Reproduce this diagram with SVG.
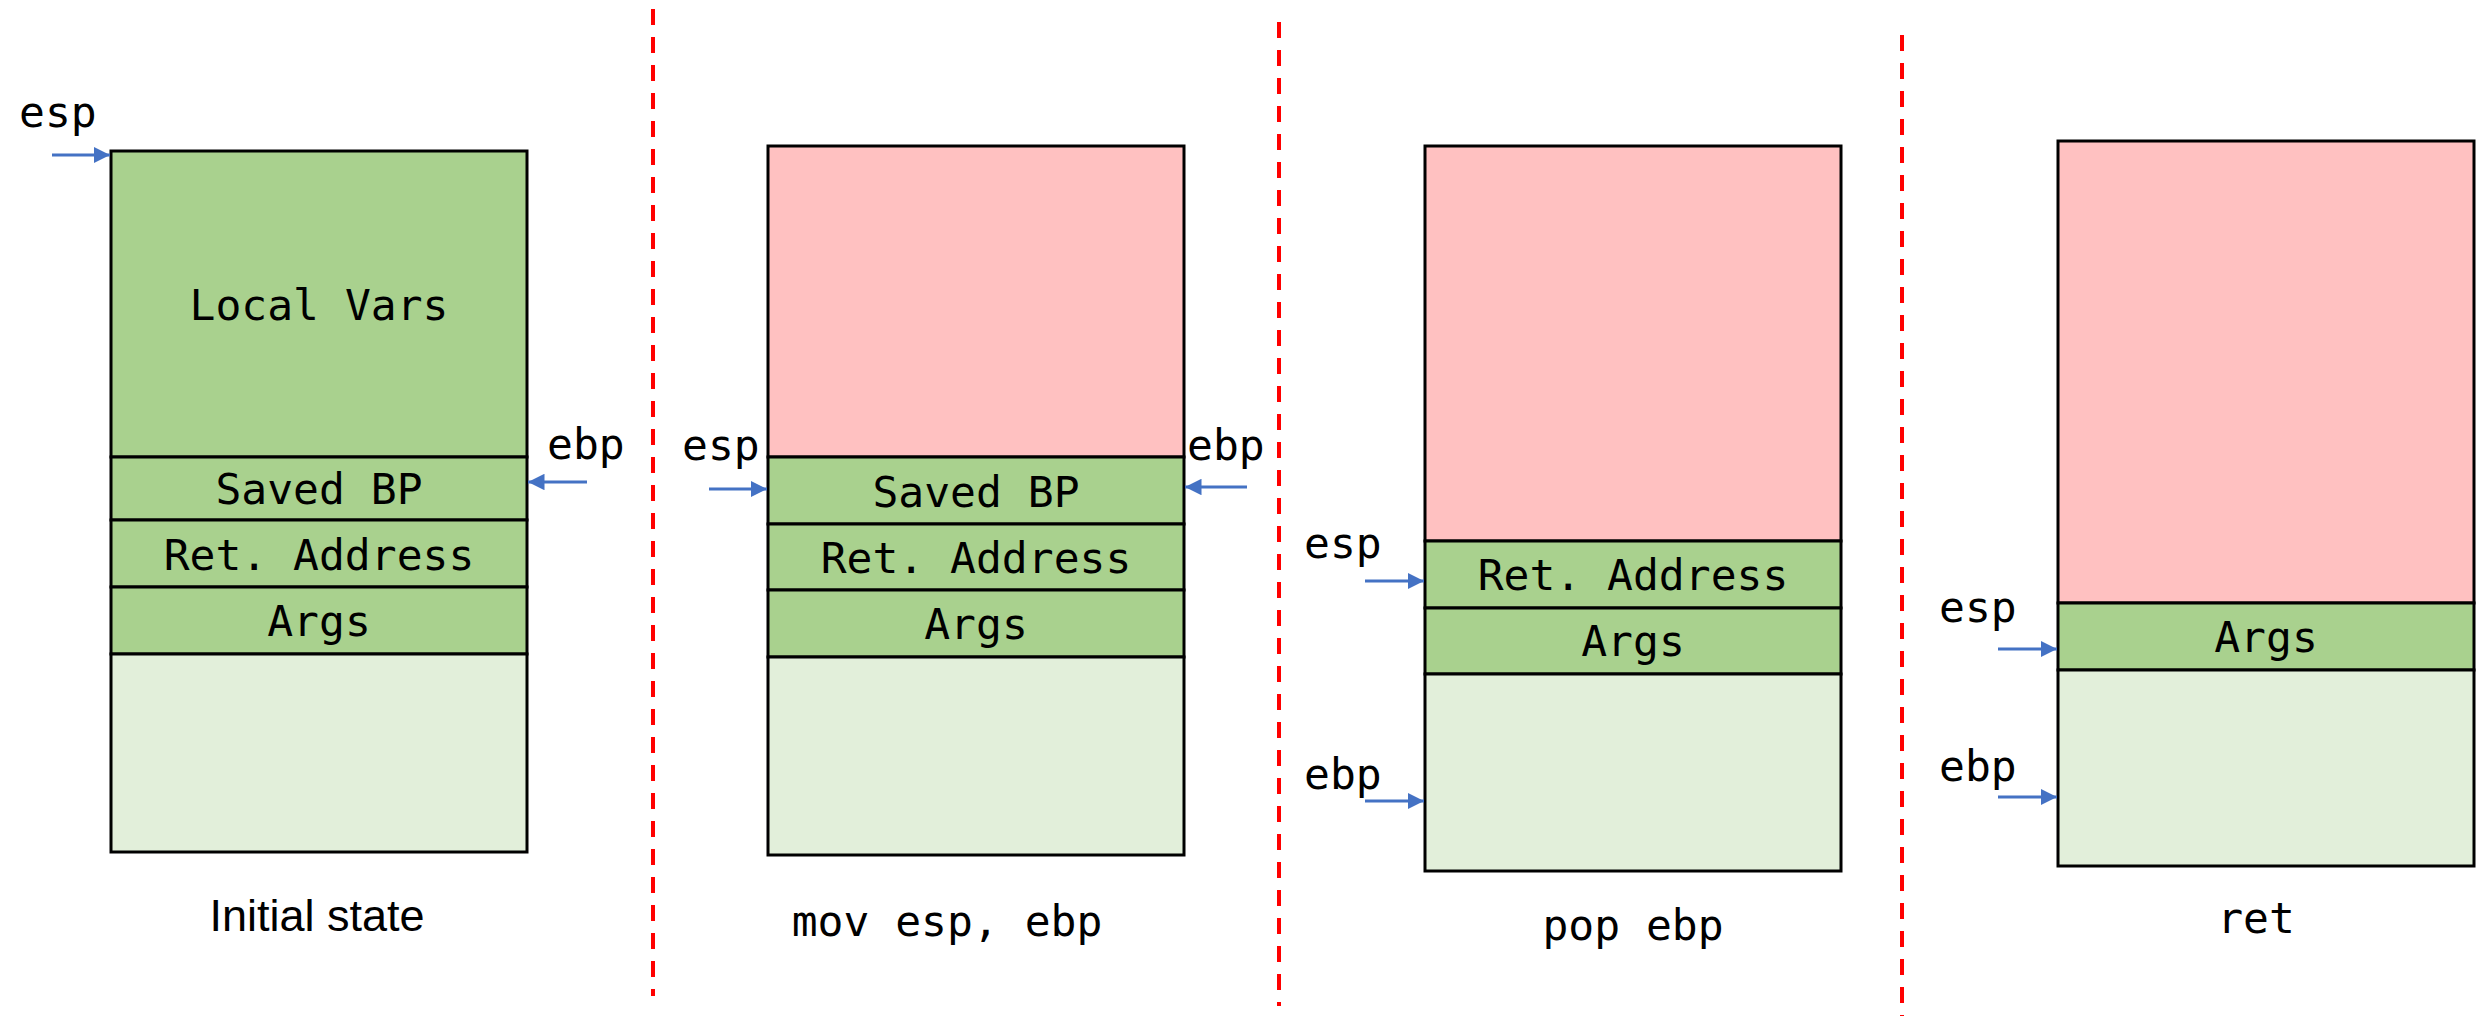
<svg xmlns="http://www.w3.org/2000/svg" width="2488" height="1022" viewBox="0 0 2488 1022">
<style>
.box{stroke:#000;stroke-width:3}
.g{fill:#A9D18E}
.lg{fill:#E2EFDA}
.pk{fill:#FFC1C1}
.mono{font-family:"DejaVu Sans Mono","Liberation Mono",monospace;font-size:43px;fill:#000}
.cell{text-anchor:middle;dominant-baseline:central}
.cap{font-family:"Liberation Sans",Arial,sans-serif;font-size:45px;fill:#000;text-anchor:middle}
.sep{stroke:#FF0000;stroke-width:4;stroke-dasharray:16 12;fill:none}
.arr{stroke:#4472C4;stroke-width:3;fill:none;marker-end:url(#ah)}
</style>
<defs>
<marker id="ah" viewBox="0 0 10 10" refX="10" refY="5" markerWidth="5.5" markerHeight="5.5" markerUnits="strokeWidth" orient="auto">
<path d="M0,0 L10,5 L0,10 z" fill="#4472C4"/>
</marker>
</defs>
<rect width="2488" height="1022" fill="#fff"/>
<g id="separators">
<line class="sep" x1="653" y1="9" x2="653" y2="996"/>
<line class="sep" x1="1279" y1="22" x2="1279" y2="1006"/>
<line class="sep" x1="1902" y1="35" x2="1902" y2="1016"/>
</g>
<g id="stack1">
<rect class="box g" x="111" y="151" width="416" height="306"/>
<rect class="box g" x="111" y="457" width="416" height="63"/>
<rect class="box g" x="111" y="520" width="416" height="67"/>
<rect class="box g" x="111" y="587" width="416" height="67"/>
<rect class="box lg" x="111" y="654" width="416" height="198"/>
<text class="mono cell" x="319" y="305">Local Vars</text>
<text class="mono cell" x="319" y="489">Saved BP</text>
<text class="mono cell" x="319" y="555">Ret. Address</text>
<text class="mono cell" x="319" y="621">Args</text>
<text class="cap" x="317" y="931">Initial state</text>
<text class="mono" x="19" y="127">esp</text>
<text class="mono" x="547" y="459">ebp</text>
</g>
<g id="stack2">
<rect class="box pk" x="768" y="146" width="416" height="311"/>
<rect class="box g" x="768" y="457" width="416" height="67"/>
<rect class="box g" x="768" y="524" width="416" height="66"/>
<rect class="box g" x="768" y="590" width="416" height="67"/>
<rect class="box lg" x="768" y="657" width="416" height="198"/>
<text class="mono cell" x="976" y="492">Saved BP</text>
<text class="mono cell" x="976" y="558">Ret. Address</text>
<text class="mono cell" x="976" y="624">Args</text>
<text class="mono" x="682" y="460">esp</text>
<text class="mono" x="1187" y="460">ebp</text>
<text class="mono" x="947" y="936" text-anchor="middle">mov esp, ebp</text>
</g>
<g id="stack3">
<rect class="box pk" x="1425" y="146" width="416" height="395"/>
<rect class="box g" x="1425" y="541" width="416" height="67"/>
<rect class="box g" x="1425" y="608" width="416" height="66"/>
<rect class="box lg" x="1425" y="674" width="416" height="197"/>
<text class="mono cell" x="1633" y="575">Ret. Address</text>
<text class="mono cell" x="1633" y="641">Args</text>
<text class="mono" x="1304" y="558">esp</text>
<text class="mono" x="1304" y="789">ebp</text>
<text class="mono" x="1633" y="940" text-anchor="middle">pop ebp</text>
</g>
<g id="stack4">
<rect class="box pk" x="2058" y="141" width="416" height="462"/>
<rect class="box g" x="2058" y="603" width="416" height="67"/>
<rect class="box lg" x="2058" y="670" width="416" height="196"/>
<text class="mono cell" x="2266" y="637">Args</text>
<text class="mono" x="1939" y="622">esp</text>
<text class="mono" x="1939" y="781">ebp</text>
<text class="mono" x="2256" y="933" text-anchor="middle">ret</text>
</g>
<g id="connectors">
<line class="arr" x1="52" y1="155" x2="110" y2="155"/>
<line class="arr" x1="587" y1="482" x2="528" y2="482"/>
<line class="arr" x1="709" y1="489" x2="767" y2="489"/>
<line class="arr" x1="1247" y1="487" x2="1185" y2="487"/>
<line class="arr" x1="1365" y1="581" x2="1424" y2="581"/>
<line class="arr" x1="1365" y1="801" x2="1424" y2="801"/>
<line class="arr" x1="1998" y1="649" x2="2057" y2="649"/>
<line class="arr" x1="1998" y1="797" x2="2057" y2="797"/>
</g>
</svg>
